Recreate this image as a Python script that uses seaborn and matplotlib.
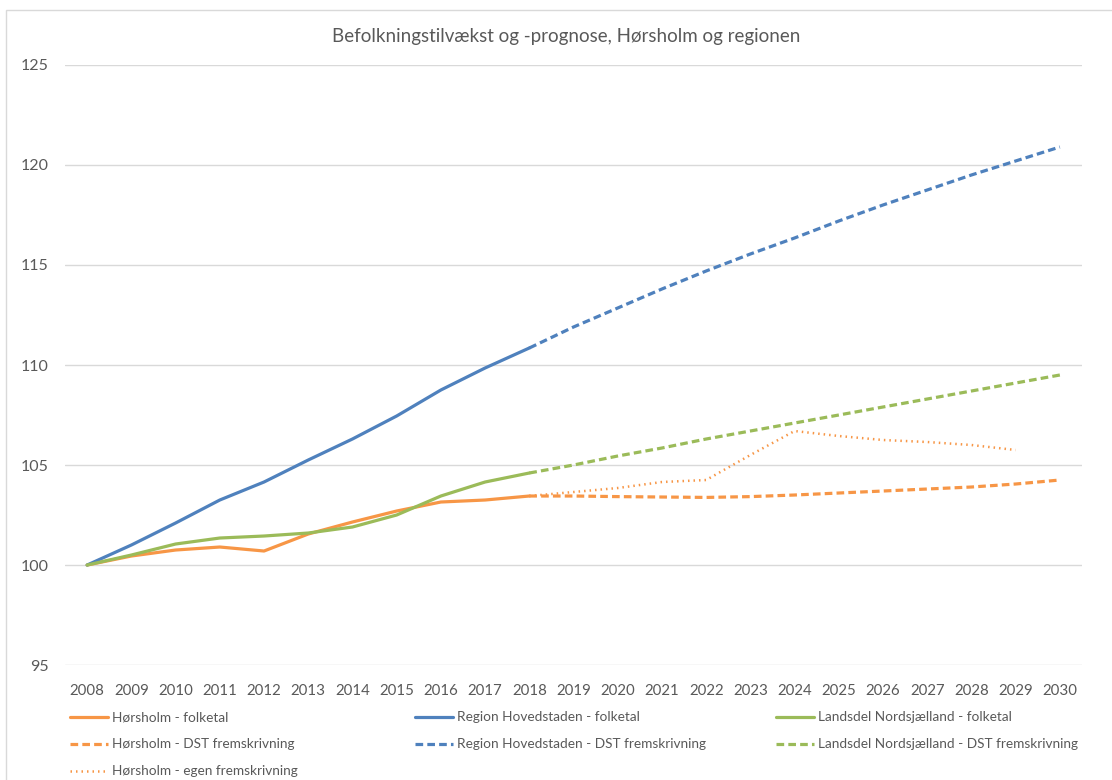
import matplotlib
matplotlib.use("Agg")
import matplotlib.pyplot as plt
from matplotlib.lines import Line2D
from matplotlib.patches import Rectangle
import seaborn as sns

# Historiske aar og prognoseaar
years_hist = list(range(2008, 2019))
years_prog = list(range(2018, 2031))
years_egen = list(range(2018, 2030))

# Indeks (2008 = 100)
horsholm_folketal = [100, 100.45, 100.75, 100.9, 100.7, 101.55, 102.15, 102.7, 103.15, 103.25, 103.45]
region_folketal = [100, 101.0, 102.1, 103.25, 104.15, 105.25, 106.3, 107.45, 108.75, 109.85, 110.85]
landsdel_folketal = [100, 100.5, 101.05, 101.35, 101.45, 101.6, 101.9, 102.5, 103.45, 104.15, 104.6]

horsholm_dst = [103.45, 103.45, 103.42, 103.4, 103.38, 103.42, 103.5, 103.6, 103.7, 103.8, 103.9, 104.05, 104.25]
region_dst = [110.85, 111.9, 112.85, 113.8, 114.7, 115.55, 116.35, 117.2, 118.0, 118.75, 119.5, 120.2, 120.9]
landsdel_dst = [104.6, 105.0, 105.45, 105.85, 106.3, 106.7, 107.1, 107.5, 107.9, 108.3, 108.7, 109.1, 109.5]
horsholm_egen = [103.45, 103.65, 103.85, 104.15, 104.25, 105.5, 106.7, 106.45, 106.25, 106.15, 106.0, 105.75]

orange = "#F79646"
blue = "#4F81BD"
green = "#9BBB59"
grey_txt = "#595959"

sns.set_theme(style="white")
plt.rcParams['font.family'] = ['Lato', 'DejaVu Sans']

fig = plt.figure(figsize=(11.12, 7.8), dpi=100)
ax = fig.add_axes([0.0585, 0.1474, 0.9145, 0.7693])

lw = 2.3
dash = (0, (2.4, 1.3))
dot = (0, (0.6, 1.6))
sns.lineplot(x=years_hist, y=horsholm_folketal, ax=ax, color=orange, lw=lw)
sns.lineplot(x=years_hist, y=region_folketal, ax=ax, color=blue, lw=lw)
sns.lineplot(x=years_hist, y=landsdel_folketal, ax=ax, color=green, lw=lw)
sns.lineplot(x=years_prog, y=horsholm_dst, ax=ax, color=orange, lw=lw, linestyle=dash)
sns.lineplot(x=years_prog, y=region_dst, ax=ax, color=blue, lw=lw, linestyle=dash)
sns.lineplot(x=years_prog, y=landsdel_dst, ax=ax, color=green, lw=lw, linestyle=dash)
sns.lineplot(x=years_egen, y=horsholm_egen, ax=ax, color=orange, lw=1.8, linestyle=dot)

ax.set_xlim(2007.5, 2030.5)
ax.set_ylim(95, 125)
ax.set_yticks(range(95, 126, 5))
ax.set_xticks(range(2008, 2031))
ax.grid(axis="y", color="#D9D9D9", lw=1)
ax.grid(axis="x", visible=False)
for s in ax.spines.values():
    s.set_visible(False)
ax.tick_params(axis="both", length=0, labelcolor=grey_txt)
ax.tick_params(axis="y", pad=12, labelsize=11.5)
ax.tick_params(axis="x", pad=14, labelsize=10.8)

fig.text(0.509, 0.9526, "Befolkningstilvækst og -prognose, Hørsholm og regionen",
         ha="center", va="center", fontsize=13.5, color=grey_txt)

# ramme
fig.add_artist(Rectangle((6 / 1112, -0.1), 1.2, 1.1 - 10 / 780, transform=fig.transFigure,
                         fill=False, edgecolor="#D9D9D9", lw=1))

def h(color, ls, w=lw):
    return Line2D([], [], color=color, lw=w, linestyle=ls)

legend_cols = [
    ([h(orange, "-"), h(orange, dash), h(orange, dot, 1.8)],
     ["Hørsholm - folketal", "Hørsholm - DST fremskrivning", "Hørsholm - egen fremskrivning"], 0.063),
    ([h(blue, "-"), h(blue, dash)],
     ["Region Hovedstaden - folketal", "Region Hovedstaden - DST fremskrivning"], 0.373),
    ([h(green, "-"), h(green, dash)],
     ["Landsdel Nordsjælland - folketal", "Landsdel Nordsjælland - DST fremskrivning"], 0.698),
]
for handles, labels, xpos in legend_cols:
    leg = fig.legend(handles, labels, loc="upper left", bbox_to_anchor=(xpos, 0.088),
                     frameon=False, fontsize=9.8, handlelength=2.8, handletextpad=0.3,
                     labelspacing=1.1, borderaxespad=0, borderpad=0)
    for t in leg.get_texts():
        t.set_color(grey_txt)

fig.savefig("out.png", dpi=100)
